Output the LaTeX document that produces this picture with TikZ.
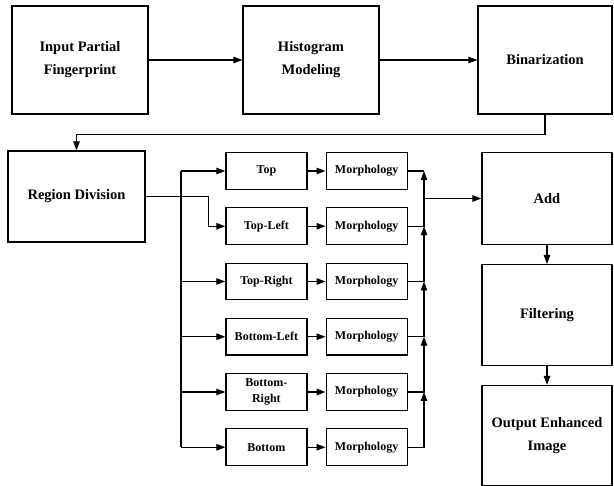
\documentclass[tikz,border=0pt]{standalone}
\usepackage{fontspec}
\setmainfont{Liberation Serif}
\usetikzlibrary{arrows.meta, positioning}

\tikzset{
  bigbox/.style={draw, line width=1.2pt, align=center, inner sep=2pt,
    font=\fontsize{14.5}{23}\selectfont\bfseries},
  smallbox/.style={draw, line width=1.2pt, align=center, inner sep=1pt,
    minimum width=81pt, minimum height=36.7pt,
    font=\fontsize{12}{16.5}\selectfont\bfseries},
  wire/.style={line width=1.2pt},
  link/.style={wire, -{Triangle[length=9pt,width=6.5pt]}}
}

\begin{document}
\begin{tikzpicture}[x=1pt, y=-1pt]
    \useasboundingbox (0,0) rectangle (614,486);

    % top row
    \node[bigbox, minimum width=136pt, minimum height=108pt] (input) at (80,60) {Input Partial\\Fingerprint};
    \node[bigbox, minimum width=136pt, minimum height=108pt] (hist) at (311,60) {Histogram\\Modeling};
    \node[bigbox, minimum width=134pt, minimum height=108pt] (bin) at (545,60) {Binarization};
    \node[bigbox, minimum width=137pt, minimum height=91pt] (reg) at (76.5,196.5) {Region Division};

    % right column
    \node[bigbox, minimum width=130pt, minimum height=91.6pt] (add) at (547,198.5) {Add};
    \node[bigbox, minimum width=130pt, minimum height=100.7pt, below=19pt of add] (filt) {Filtering};
    \node[bigbox, minimum width=130pt, minimum height=100pt, below=19pt of filt] (out) {Output Enhanced\\Image};

    % regions and morphology
    \foreach \n/\lbl [count=\i from 0] in {top/Top, tl/Top-Left, tr/Top-Right, bl/Bottom-Left, br/{Bottom-\\Right}, bot/Bottom} {
        \node[smallbox] (\n) at (266.4,171+55.25*\i) {\lbl};
        \node[smallbox, right=18pt of \n] (m\n) {Morphology};
        \draw[link] (\n) -- (m\n);
    }

    \coordinate (lbus) at (181,0); % left bus
    \coordinate (rbus) at (424,0); % right bus

    \draw[link] (input) -- (hist);
    \draw[link] (hist) -- (bin);
    \draw[link] (bin.south) -- ++(0,20) -| (reg.north);

    \draw[link] (reg.east) -- ++(63,0) |- (tl.west);
    \draw[wire] (lbus |- top.west) -- (lbus |- bot.west);
    \foreach \n in {top,tr,bl,br,bot}
        \draw[link] (lbus |- \n.west) -- (\n.west);

    \draw[wire] (mtop.east) -- (rbus |- mtop.east);
    \foreach \a/\b in {mbot/mbr, mbr/mbl, mbl/mtr, mtr/mtl, mtl/mtop}
        \draw[link] (\a.east) -| (rbus |- \b.east);
    \draw[link] (rbus |- add.west) -- (add.west);

    \draw[link] (add) -- (filt);
    \draw[link] (filt) -- (out);
\end{tikzpicture}
\end{document}
